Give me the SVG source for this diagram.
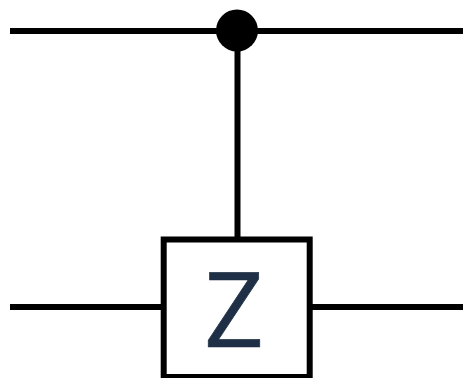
<svg xmlns="http://www.w3.org/2000/svg" width="465" height="378" viewBox="0 0 465 378">
<style>.w{stroke:#000;stroke-width:6;fill:none}</style>
<rect width="465" height="378" fill="#fff"/>
<g id="connectors">
<path class="w" d="M10 31H463"/>
<path class="w" d="M237.500 31V239"/>
<path class="w" d="M10 307H163"/>
<path class="w" d="M311 307H463"/>
</g>
<g id="control"><circle cx="237" cy="30.500" r="21" fill="#000"/></g>
<g id="z-gate">
<rect class="w" x="163.700" y="239.500" width="146" height="137.500" fill="#fff"/>
<text x="234" y="347" font-family="'Open Sans',sans-serif" font-size="104" fill="#1f2f45" stroke="#1f2f45" stroke-width="0.7" text-anchor="middle">Z</text>
</g>
</svg>
